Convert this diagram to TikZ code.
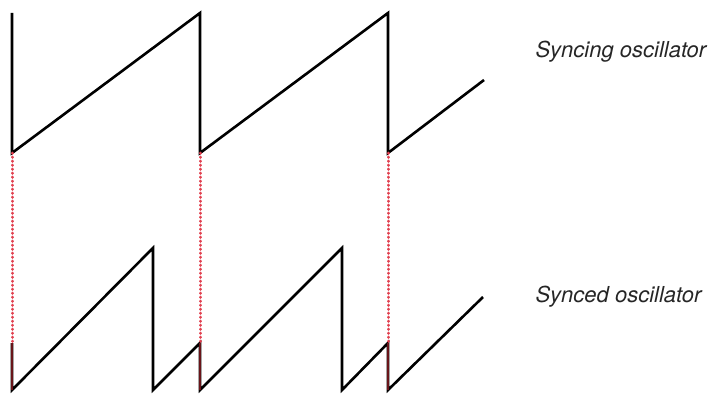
\documentclass[tikz,border=0pt]{standalone}
\usepackage{fontspec}
\setmainfont{TeX Gyre Heros}
\usetikzlibrary{calc}
\definecolor{syncred}{RGB}{225,65,80}
\definecolor{resetred}{RGB}{105,20,25}

\begin{document}
\begin{tikzpicture}[x=1pt,y=-1pt]
\tikzset{wave/.style={black,line width=2.6pt},
  syncdots/.style={syncred,line width=3pt,line cap=round,dash pattern=on 0.4pt off 3.6pt},
  resetbar/.style={resetred,line width=2.6pt},
  wavelabel/.style={anchor=base west,font=\itshape\fontsize{22}{26}\selectfont,text=black!85}}
\useasboundingbox (0,0) rectangle (709,404);
% syncing oscillator
\coordinate(T0) at (12,153);
\coordinate(T1) at (200,153);
\coordinate(T2) at (388,153);
\draw[wave] (12,13) -- (T0) -- (200,13) -- (T1) -- (388,13) -- (T2) -- (484,80);
% synced oscillator
\coordinate(B0) at (12,390);
\coordinate(B1) at (200,390);
\coordinate(B2) at (388,390);
\coordinate(R0) at (12,343);
\coordinate(R1) at (200,343);
\coordinate(R2) at (388,343);
\draw[wave] (R0) -- (B0) -- (153,248) -- (153,390) -- (R1) -- (B1) -- (342,248) -- (342,390) -- (R2) -- (B2) -- (483,297);
% sync points
\foreach \i in {0,1,2}{
  \draw[syncdots] (T\i) -- (R\i);
  \draw[resetbar] (R\i) -- (B\i);
}
\node[wavelabel] (syncing) at (532,57) {Syncing oscillator};
\node[wavelabel] (synced) at (532,302) {Synced oscillator};
\end{tikzpicture}
\end{document}
